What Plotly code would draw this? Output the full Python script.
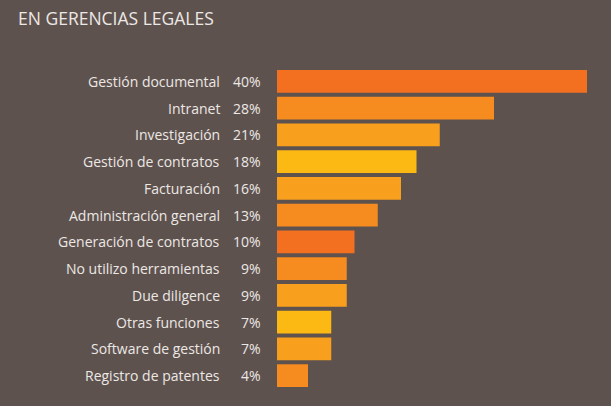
import plotly.graph_objects as go

categories = ["Gestión documental", "Intranet", "Investigación", "Gestión de contratos",
              "Facturación", "Administración general", "Generación de contratos",
              "No utilizo herramientas", "Due diligence", "Otras funciones",
              "Software de gestión", "Registro de patentes"]
values = [40, 28, 21, 18, 16, 13, 10, 9, 9, 7, 7, 4]
colors = ["#F37021", "#F68B1F", "#F8A01D", "#FDB913", "#F8A01D", "#F68B1F",
          "#F37021", "#F68B1F", "#F8A01D", "#FDB913", "#F8A01D", "#F68B1F"]
title = "EN GERENCIAS LEGALES"

BG = "#5E524F"
TXT = "#ECE8E4"
FONT = "Open Sans"

fig = go.Figure(go.Bar(
    x=values, y=categories, orientation="h",
    marker=dict(color=colors, line=dict(width=0)),
    width=0.85, hoverinfo="skip",
))

for c, v in zip(categories, values):
    fig.add_annotation(x=0, y=c, xref="x", yref="y", text=f"{v}%",
                       showarrow=False, xanchor="right", xshift=-14,
                       font=dict(family=FONT, size=14, color=TXT))
    fig.add_annotation(x=0, y=c, xref="x", yref="y", text=c,
                       showarrow=False, xanchor="right", xshift=-55,
                       font=dict(family=FONT, size=14, color=TXT))

fig.update_layout(
    width=611, height=406,
    paper_bgcolor=BG, plot_bgcolor=BG,
    margin=dict(l=277, r=24, t=68, b=17),
    showlegend=False,
    xaxis=dict(range=[0, 40], visible=False, fixedrange=True),
    yaxis=dict(autorange="reversed", showticklabels=False, showgrid=False,
               zeroline=False, showline=False, fixedrange=True),
    title=dict(text=title, x=18/611, xanchor="left", y=1-19/406,
               yanchor="middle", font=dict(family=FONT, size=17.5, color=TXT)),
)

fig.write_html("out.html")
